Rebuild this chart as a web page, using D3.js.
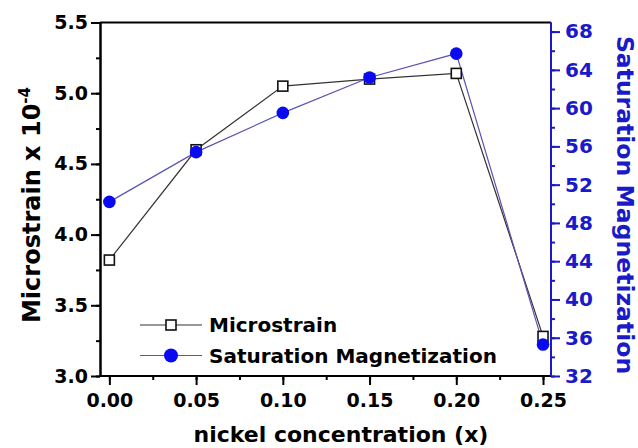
<!DOCTYPE html>
<html><head><meta charset="utf-8">
<script src="https://cdn.jsdelivr.net/npm/d3@7"></script>
<style>
html,body{margin:0;padding:0;background:#fff;}
svg{display:block;font-family:"DejaVu Sans",Verdana,sans-serif;font-weight:bold;}
</style></head>
<body>
<svg id="chart" width="638" height="448"></svg>
<script>
const nickel = [0.00, 0.05, 0.10, 0.15, 0.20, 0.25];
const microstrain = [3.82, 4.60, 5.05, 5.10, 5.14, 3.28];
const magnetization = [50.2, 55.4, 59.5, 63.2, 65.7, 35.3];
const xTicks = [0.00, 0.05, 0.10, 0.15, 0.20, 0.25];
const leftTicks = [3.0, 3.5, 4.0, 4.5, 5.0, 5.5];
const rightTicks = [32, 36, 40, 44, 48, 52, 56, 60, 64, 68];

const svg = d3.select("#chart");
const L = 100, R = 551, T = 22.5, B = 376;
const blue = "#1a1ac8";

const x = d3.scaleLinear().domain([-0.0054, 0.2546]).range([L, R]);
const yL = d3.scaleLinear().domain([3.0, 5.5]).range([B, T]);
const yR = d3.scaleLinear().domain([32, 68.95]).range([B, T]);

// top frame
svg.append("line").attr("x1", L).attr("x2", R).attr("y1", T).attr("y2", T)
  .attr("stroke", "#000").attr("stroke-width", 2);

// bottom axis
const gx = svg.append("g").attr("transform", `translate(0,${B})`);
gx.call(d3.axisBottom(x).tickValues(d3.range(0, 0.2501, 0.025)).tickFormat("").tickSize(4).tickSizeOuter(0));
gx.call(g => g.append("g").call(d3.axisBottom(x).tickValues(xTicks).tickFormat(d3.format(".2f")).tickSize(9).tickSizeOuter(0).tickPadding(9)));
gx.selectAll("path.domain").attr("d", `M${L},0H${R}`);
gx.selectAll("path, line").attr("stroke", "#000").attr("stroke-width", 2);
gx.selectAll("text").attr("font-size", 19).attr("fill", "#000").attr("font-family", "DejaVu Sans").attr("font-weight", "bold");

// left axis
const gl = svg.append("g").attr("transform", `translate(${L},0)`);
gl.call(d3.axisLeft(yL).tickValues(d3.range(3.0, 5.501, 0.25)).tickFormat("").tickSize(4).tickSizeOuter(0));
gl.call(g => g.append("g").call(d3.axisLeft(yL).tickValues(leftTicks).tickFormat(d3.format(".1f")).tickSize(9).tickSizeOuter(0).tickPadding(3)));
gl.selectAll("path, line").attr("stroke", "#000").attr("stroke-width", 2);
gl.selectAll("text").attr("font-size", 19).attr("fill", "#000").attr("font-family", "DejaVu Sans").attr("font-weight", "bold");

// right axis
const gr = svg.append("g").attr("transform", `translate(${R},0)`);
gr.call(d3.axisRight(yR).tickValues(d3.range(32, 68.01, 2)).tickFormat("").tickSize(4).tickSizeOuter(0));
gr.call(g => g.append("g").call(d3.axisRight(yR).tickValues(rightTicks).tickFormat(d3.format("d")).tickSize(9).tickSizeOuter(0).tickPadding(5)));
gr.selectAll("path.domain").attr("d", `M0,${B}V${T}`);
gr.selectAll("path, line").attr("stroke", blue).attr("stroke-width", 2);
gr.selectAll("text").attr("font-size", 20).attr("fill", blue).attr("font-family", "DejaVu Sans").attr("font-weight", "bold");

// lines
const ms = nickel.map((n, i) => ({x: n, y: microstrain[i]}));
const mg = nickel.map((n, i) => ({x: n, y: magnetization[i]}));
svg.append("path").datum(ms).attr("fill", "none").attr("stroke", "#333").attr("stroke-width", 1.2)
  .attr("d", d3.line().x(d => x(d.x)).y(d => yL(d.y)));
svg.append("path").datum(mg).attr("fill", "none").attr("stroke", "#5a55b0").attr("stroke-width", 1.2)
  .attr("d", d3.line().x(d => x(d.x)).y(d => yR(d.y)));

svg.selectAll("rect.ms").data(ms).join("rect").attr("class", "ms")
  .attr("x", d => x(d.x) - 5).attr("y", d => yL(d.y) - 5).attr("width", 10).attr("height", 10)
  .attr("fill", "#fff").attr("stroke", "#111").attr("stroke-width", 1.6);
svg.selectAll("circle.mg").data(mg).join("circle").attr("class", "mg")
  .attr("cx", d => x(d.x)).attr("cy", d => yR(d.y)).attr("r", 6.3).attr("fill", "#0a0af0");

// legend
const lg = svg.append("g");
lg.append("line").attr("x1", 140).attr("x2", 202).attr("y1", 325).attr("y2", 325).attr("stroke", "#333").attr("stroke-width", 1.2);
lg.append("rect").attr("x", 166).attr("y", 320).attr("width", 10).attr("height", 10).attr("fill", "#fff").attr("stroke", "#111").attr("stroke-width", 1.6);
lg.append("text").attr("x", 209).attr("y", 332).attr("font-size", 20).text("Microstrain");
lg.append("line").attr("x1", 140).attr("x2", 202).attr("y1", 355.5).attr("y2", 355.5).attr("stroke", "#5a55b0").attr("stroke-width", 1.2);
lg.append("circle").attr("cx", 171).attr("cy", 355.5).attr("r", 7).attr("fill", "#0a0af0");
lg.append("text").attr("x", 209).attr("y", 362.5).attr("font-size", 20).text("Saturation Magnetization");

// axis titles
svg.append("text").attr("x", 341).attr("y", 442).attr("text-anchor", "middle")
  .attr("font-size", 22).text("nickel concentration (x)");
const lt = svg.append("text").attr("transform", "translate(40,205) rotate(-90)").attr("text-anchor", "middle").attr("font-size", 24);
lt.append("tspan").text("Microstrain x 10");
lt.append("tspan").attr("dy", -10).attr("font-size", 15).text("-4");
svg.append("text").attr("transform", "translate(617,205) rotate(90)").attr("text-anchor", "middle")
  .attr("font-size", 23.5).attr("fill", blue).text("Saturation Magnetization");
</script>
</body></html>
